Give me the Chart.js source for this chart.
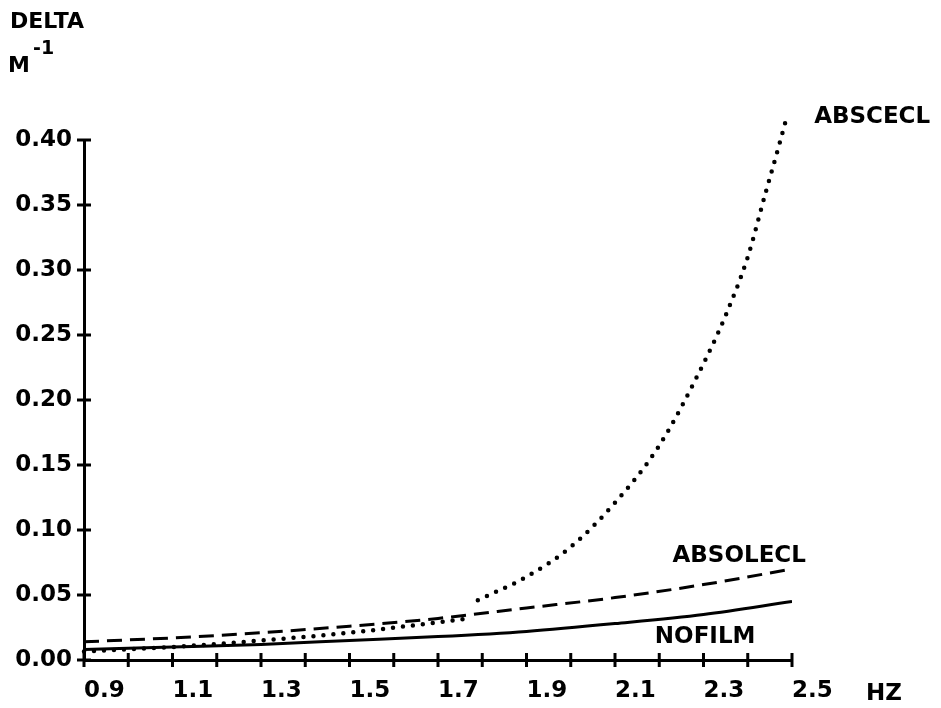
<!DOCTYPE html>
<html>
<head>
<meta charset="utf-8">
<script src="https://cdn.jsdelivr.net/npm/chart.js@4.4.1/dist/chart.umd.min.js"></script>
<style>
  html, body { margin: 0; padding: 0; background: #fff; }
  #wrap { width: 941px; height: 708px; position: relative; }
</style>
</head>
<body>
<div id="wrap"><canvas id="chart"></canvas></div>
<script>
// values (frequency in HZ, delta in 1/M)
const freq = [0.9, 1.1, 1.3, 1.5, 1.7, 1.9, 2.1, 2.3, 2.5];
const noFilm = [0.008, 0.010, 0.012, 0.015, 0.018, 0.022, 0.028, 0.035, 0.045];
const absolEcl = [0.014, 0.017, 0.021, 0.026, 0.032, 0.040, 0.048, 0.058, 0.070];
// the dotted curve has a break near 1.78 HZ
const abscFreq = [0.9, 1.1, 1.3, 1.5, 1.7, 1.77, 1.78, 1.79, 1.9, 2.0, 2.1, 2.2, 2.3, 2.35, 2.4, 2.44, 2.47, 2.49];
const abscEcl = [0.0065, 0.010, 0.015, 0.021, 0.029, 0.032, null, 0.046, 0.064, 0.087, 0.121, 0.165, 0.228, 0.265, 0.31, 0.359, 0.395, 0.42];
const yTicks = ['0.00', '0.05', '0.10', '0.15', '0.20', '0.25', '0.30', '0.35', '0.40'];

const FONT = 'DejaVu Sans';
const toPoints = (xs, ys) => xs.map((x, i) => ({ x: x, y: ys[i] }));

// tick marks that cross the axis lines
const crossTicks = {
    id: 'crossTicks',
    afterDatasetsDraw(chart) {
        const ctx = chart.ctx;
        const xs = chart.scales.x, ys = chart.scales.y;
        ctx.save();
        ctx.strokeStyle = '#000';
        ctx.lineWidth = 3;
        xs.ticks.forEach((t, i) => {
            const px = xs.getPixelForTick(i);
            ctx.beginPath();
            ctx.moveTo(px, ys.bottom - 7);
            ctx.lineTo(px, ys.bottom + 7);
            ctx.stroke();
        });
        ys.ticks.forEach((t, i) => {
            const py = ys.getPixelForTick(i);
            ctx.beginPath();
            ctx.moveTo(xs.left - 7, py);
            ctx.lineTo(xs.left + 7, py);
            ctx.stroke();
        });
        ctx.restore();
    }
};

// axis titles and curve names
const textLabels = {
    id: 'textLabels',
    afterDraw(chart) {
        const ctx = chart.ctx;
        const xs = chart.scales.x, ys = chart.scales.y;
        ctx.save();
        ctx.fillStyle = '#000';
        ctx.textAlign = 'left';
        ctx.textBaseline = 'alphabetic';
        ctx.font = 'bold 22px ' + FONT;
        ctx.fillText('DELTA', 10, 28);
        ctx.fillText('M', 8, 72);
        ctx.font = 'bold 23px ' + FONT;
        ctx.fillText('HZ', 866, 700);
        ctx.font = 'bold 19px ' + FONT;
        ctx.fillText('-1', 33, 54);
        ctx.font = 'bold 23px ' + FONT;
        ctx.fillText('ABSCECL', xs.getPixelForValue(2.55), ys.getPixelForValue(0.413));
        ctx.fillText('ABSOLECL', xs.getPixelForValue(2.23), ys.getPixelForValue(0.0754));
        ctx.fillText('NOFILM', xs.getPixelForValue(2.19), ys.getPixelForValue(0.013));
        ctx.restore();
    }
};

new Chart(document.getElementById('chart'), {
    type: 'line',
    data: {
        datasets: [
            {
                label: 'NOFILM',
                data: toPoints(freq, noFilm),
                borderColor: '#000',
                borderWidth: 3,
                pointRadius: 0,
                cubicInterpolationMode: 'monotone'
            },
            {
                label: 'ABSOLECL',
                data: toPoints(freq, absolEcl),
                borderColor: '#000',
                borderWidth: 3,
                borderDash: [15, 8],
                pointRadius: 0,
                cubicInterpolationMode: 'monotone'
            },
            {
                label: 'ABSCECL',
                data: toPoints(abscFreq, abscEcl),
                borderColor: '#000',
                borderWidth: 4.5,
                borderDash: [0, 10],
                borderCapStyle: 'round',
                pointRadius: 0,
                spanGaps: false,
                clip: false,
                cubicInterpolationMode: 'monotone'
            }
        ]
    },
    options: {
        responsive: true,
        maintainAspectRatio: false,
        animation: false,
        layout: { padding: { left: 0, top: 140, right: 149, bottom: 0 } },
        plugins: {
            legend: { display: false },
            tooltip: { enabled: false }
        },
        scales: {
            x: {
                type: 'linear',
                min: 0.9,
                max: 2.5,
                afterFit: s => { s.height = 48; },
                border: { color: '#000', width: 3 },
                grid: { display: true, drawOnChartArea: false, drawTicks: false },
                ticks: {
                    stepSize: 0.1,
                    autoSkip: false,
                    maxRotation: 0,
                    align: 'start',
                    padding: 17,
                    color: '#000',
                    font: { family: FONT, size: 23, weight: 'bold' },
                    callback: v => (Math.round(v * 10) % 2 === 1 ? v.toFixed(1) : '')
                }
            },
            y: {
                min: 0,
                max: 0.4,
                afterFit: s => { s.width = 84; },
                border: { color: '#000', width: 3 },
                grid: { display: true, drawOnChartArea: false, drawTicks: false },
                ticks: {
                    stepSize: 0.05,
                    padding: 12,
                    color: '#000',
                    font: { family: FONT, size: 23, weight: 'bold' },
                    callback: v => yTicks[Math.round(v / 0.05)]
                }
            }
        }
    },
    plugins: [crossTicks, textLabels]
});
</script>
</body>
</html>
